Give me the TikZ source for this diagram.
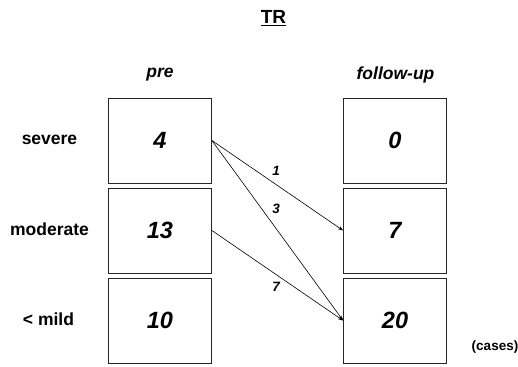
\documentclass[tikz,border=0pt]{standalone}
\usepackage{fontspec}
\setmainfont{Liberation Sans}
\usetikzlibrary{arrows.meta}
\begin{document}
\begin{tikzpicture}[x=1pt,y=-1pt,
  box/.style={draw=black!85,line width=0.8pt,minimum width=103pt,minimum height=85pt,inner sep=0pt},
  num/.style={font=\fontsize{23.5}{26}\selectfont\bfseries\itshape},
  lab/.style={font=\fontsize{17.5}{20}\selectfont\bfseries},
  head/.style={font=\fontsize{17.5}{20}\selectfont\bfseries\itshape},
  cnt/.style={font=\fontsize{13.5}{15}\selectfont\bfseries\itshape},
  flow/.style={draw,line width=0.6pt,-{Stealth[length=5pt,width=3.5pt]}}]
\useasboundingbox (0,0) rectangle (518,366);
\node[font=\fontsize{19}{22}\selectfont\bfseries] (title) at (273.5,18) {\underline{TR}};
\node[head] (pre) at (160,75) {pre};
\node[head] (fu) at (395.5,75) {follow-up};
\node[box,num] (p1) at (160,140.5) {4};
\node[box,num] (p2) at (160,230.5) {13};
\node[box,num] (p3) at (160,320.5) {10};
\node[box,num] (f1) at (395,140.5) {0};
\node[box,num] (f2) at (395,230.5) {7};
\node[box,num] (f3) at (395,320.5) {20};
\node[lab] (s) at (49.5,140) {severe};
\node[lab] (m) at (49.5,229) {moderate};
\node[lab] (l) at (48.5,319) {< mild};
\node[font=\fontsize{13.5}{16}\selectfont\bfseries] (cases) at (495,347) {(cases)};
\draw[flow] (p1.east) -- (f2.west);
\draw[flow] (p1.east) -- (f3.west);
\draw[flow] (p2.east) -- (f3.west);
\node[cnt] (c1) at (276,171) {1};
\node[cnt] (c3) at (276,209) {3};
\node[cnt] (c7) at (276,287) {7};
\end{tikzpicture}
\end{document}
